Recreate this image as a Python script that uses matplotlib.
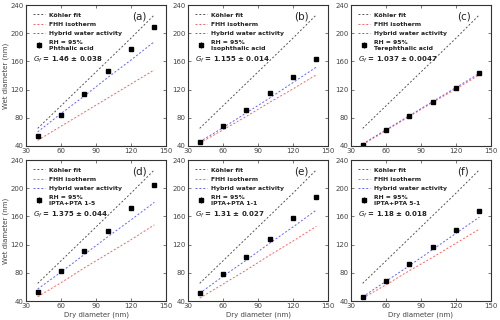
import numpy as np
import matplotlib
matplotlib.use('Agg')
import matplotlib.pyplot as plt

dry = [40, 60, 80, 100, 120, 140]
kohler = [65, 97, 129, 161, 193, 226]

panels = ['(a)', '(b)', '(c)', '(d)', '(e)', '(f)']
names = ['Phthalic acid', 'Isophthalic acid', 'Terephthalic acid',
         'IPTA+PTA 1-5', 'IPTA+PTA 1-1', 'IPTA+PTA 5-1']
gf_text = ['1.46 \u00b1 0.038', '1.155 \u00b1 0.014', '1.037 \u00b1 0.0047',
           '1.375 \u00b1 0.044', '1.31 \u00b1 0.027', '1.18 \u00b1 0.018']

wet_a = [54, 84, 114, 146, 177, 209]
wet_b = [46, 68, 91, 115, 138, 163]
wet_c = [42, 62, 82, 103, 122, 144]
wet_d = [53, 82, 111, 140, 172, 204]
wet_e = [52, 79, 103, 128, 158, 188]
wet_f = [45, 69, 93, 117, 141, 167]

fhh_a = [48, 68, 88, 108, 128, 148]
fhh_b = [44, 63, 82, 102, 121, 141]
fhh_c = [42, 62, 82, 102, 121, 141]
fhh_d = [46, 66, 87, 107, 127, 148]
fhh_e = [44, 64, 84, 105, 125, 146]
fhh_f = [44, 63, 83, 102, 122, 142]

hyb_a = [60, 86, 111, 137, 162, 188]
hyb_b = [46, 66, 87, 108, 130, 152]
hyb_c = [43, 63, 83, 103, 123, 143]
hyb_d = [57, 81, 106, 131, 155, 180]
hyb_e = [51, 75, 98, 122, 145, 169]
hyb_f = [46, 68, 90, 113, 136, 159]

wet = [wet_a, wet_b, wet_c, wet_d, wet_e, wet_f]
fhh = [fhh_a, fhh_b, fhh_c, fhh_d, fhh_e, fhh_f]
hyb = [hyb_a, hyb_b, hyb_c, hyb_d, hyb_e, hyb_f]
err = [2, 2, 1, 2, 2, 2]

fig = plt.figure(figsize=(5, 3.2), dpi=100)
lefts = [26, 188, 351]
tops = [5, 160]
w, h = 140, 141
dash = (0, (2, 2))

for k in range(6):
    row, col = k // 3, k % 3
    ax = fig.add_axes([lefts[col] / 500, 1 - (tops[row] + h) / 320, w / 500, h / 320])
    ax.plot(dry, kohler, ls=dash, color='#555555', lw=0.7, label='K\u00f6hler fit')
    ax.plot(dry, fhh[k], ls=dash, color='#ff6060', lw=0.7, label='FHH isotherm')
    ax.plot(dry, hyb[k], ls=dash, color='#6060ff', lw=0.7, label='Hybrid water activity')
    ax.errorbar(dry, wet[k], yerr=err[k], fmt='s', color='black', ms=3.5,
                elinewidth=0.6, capsize=0, label='RH = 95%\n' + names[k])
    ax.set_xlim(30, 150)
    ax.set_ylim(40, 240)
    ax.set_xticks([30, 60, 90, 120, 150])
    ax.set_yticks([40, 80, 120, 160, 200, 240])
    ax.tick_params(labelsize=5, colors='#444444', direction='in', length=2, width=0.5,
                   top=True, right=True, pad=1.5)
    for s in ax.spines.values():
        s.set_color('#333333')
        s.set_linewidth(0.8)
    leg = ax.legend(loc='upper left', frameon=False, prop={'size': 4.4, 'weight': 'bold'},
                    handlelength=1.9, handletextpad=0.7, labelspacing=0.65,
                    borderaxespad=0.8, numpoints=1)
    for t in leg.get_texts():
        t.set_color('#222222')
    ax.text(0.05, 0.61, r'$\mathit{G_f}$' + ' = ' + gf_text[k], transform=ax.transAxes,
            fontsize=5, fontweight='bold', color='#222222', va='center')
    ax.text(0.76, 0.92, panels[k], transform=ax.transAxes, fontsize=7.5, color='#222222',
            va='center', ha='left')
    if col == 0:
        ax.set_ylabel('Wet diameter (nm)', fontsize=5, color='#444444', labelpad=1)
    if row == 1:
        ax.set_xlabel('Dry diameter (nm)', fontsize=5, color='#444444', labelpad=2)

fig.savefig('out.png', dpi=100)
